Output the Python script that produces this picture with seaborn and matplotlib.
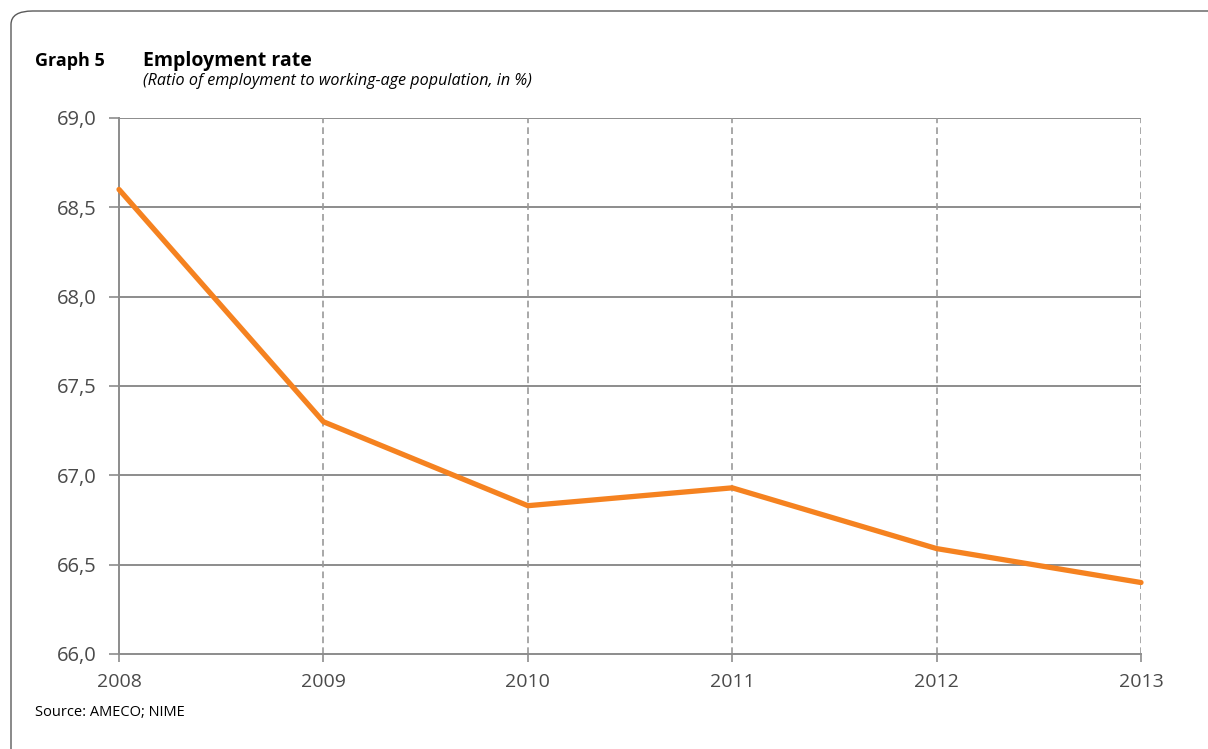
import matplotlib
matplotlib.use("Agg")
import matplotlib.pyplot as plt
from matplotlib.patches import FancyBboxPatch
from matplotlib.ticker import FuncFormatter
import seaborn as sns
import pandas as pd

years = [2008, 2009, 2010, 2011, 2012, 2013]
employment_rate = [68.60, 67.30, 66.83, 66.93, 66.59, 66.40]
y_ticks = [66.0, 66.5, 67.0, 67.5, 68.0, 68.5, 69.0]

sns.set_theme(style="white")
plt.rcParams["font.family"] = ["Open Sans", "DejaVu Sans"]

df = pd.DataFrame({"year": years, "rate": employment_rate})

W, H = 1208, 749
fig = plt.figure(figsize=(W / 100, H / 100), dpi=100)
ax = fig.add_axes([119 / W, 1 - 654 / H, (1141 - 119) / W, (654 - 118) / H])

grid_col = "#8c8c8c"
ax.set_xlim(2008, 2013)
ax.set_ylim(66.0, 69.0)
ax.set_yticks(y_ticks)
ax.set_xticks(years)
for y in y_ticks[1:]:
    ax.axhline(y, color=grid_col, lw=1.4, zorder=1)
for x in years[1:]:
    ax.axvline(x, color="#999999", lw=1.2, ls=(0, (4, 2.5)), zorder=1)

sns.lineplot(data=df, x="year", y="rate", ax=ax, color="#F58220",
             linewidth=3.8, zorder=3, clip_on=False)

for side in ["top", "right"]:
    ax.spines[side].set_visible(False)
for side in ["left", "bottom"]:
    ax.spines[side].set_color(grid_col)
    ax.spines[side].set_linewidth(1.4)

ax.yaxis.set_major_formatter(FuncFormatter(lambda v, p: f"{v:.1f}".replace(".", ",")))
ax.tick_params(axis="y", length=7, width=1.2, color=grid_col, pad=9,
               labelsize=14.5, labelcolor="#4a4a4a", left=True)
ax.tick_params(axis="x", length=6, width=1.2, color=grid_col, pad=8,
               labelsize=14, labelcolor="#4a4a4a", bottom=True)
ax.set_xlabel("")
ax.set_ylabel("")

fig.text(35 / W, 1 - 61 / H, "Graph 5", fontsize=13, fontweight="bold",
         color="black", va="center", ha="left")
fig.text(143 / W, 1 - 61 / H, "Employment rate", fontsize=14, fontweight="bold",
         color="black", va="center", ha="left")
fig.text(143 / W, 1 - 81 / H, "(Ratio of employment to working-age population, in %)",
         fontsize=11.6, style="italic", color="black", va="center", ha="left")
fig.text(35 / W, 1 - 712 / H, "Source: AMECO; NIME", fontsize=10.5,
         color="black", va="center", ha="left")

frame = FancyBboxPatch((11 / W, -20 / H), (W + 40 - 11) / W, (H + 20 - 11) / H,
                       boxstyle="round,pad=0,rounding_size=0.018",
                       transform=fig.transFigure, fill=False,
                       edgecolor="#5a5a5a", linewidth=1.0, clip_on=False)
fig.patches.append(frame)

fig.savefig("out.png", dpi=100, facecolor="white")
